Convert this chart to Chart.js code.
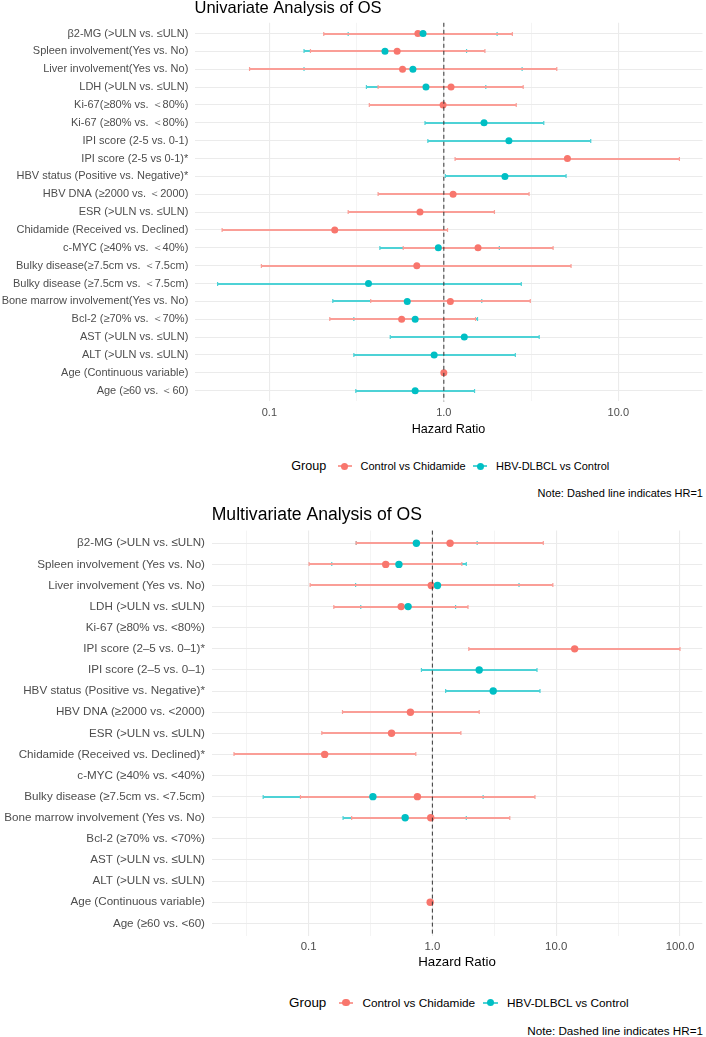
<!DOCTYPE html>
<html>
<head>
<meta charset="utf-8">
<script src="https://cdn.jsdelivr.net/npm/chart.js@4.4.1/dist/chart.umd.min.js"></script>
<style>
  body { margin: 0; background: #fff; font-family: "Liberation Sans", Arial, sans-serif; }
  #page { position: relative; width: 706px; height: 1037px; overflow: hidden; background: #fff; }
  canvas { position: absolute; left: 0; }
  .legend { position: absolute; display: flex; align-items: center; justify-content: center; white-space: nowrap; color: #000; }
  .legend .key { position: relative; display: inline-block; }
  .legend .key i { position: absolute; display: block; }
  .note { position: absolute; right: 3px; color: #000; white-space: nowrap; }
</style>
</head>
<body>
<div id="page">
  <canvas id="uni" width="706" height="440" style="top:0"></canvas>
  <div id="uniLegend" class="legend"></div>
  <div id="uniNote" class="note">Note: Dashed line indicates HR=1</div>
  <canvas id="multi" width="706" height="480" style="top:500px"></canvas>
  <div id="multiLegend" class="legend"></div>
  <div id="multiNote" class="note">Note: Dashed line indicates HR=1</div>
</div>
<script>
// ---- Univariate analysis ----
const uniLabels = [
  'β2-MG (>ULN vs. ≤ULN)',
  'Spleen involvement(Yes vs. No)',
  'Liver involvement(Yes vs. No)',
  'LDH (>ULN vs. ≤ULN)',
  'Ki-67(≥80% vs. ＜80%)',
  'Ki-67 (≥80% vs. ＜80%)',
  'IPI score (2-5 vs. 0-1)',
  'IPI score (2-5 vs 0-1)*',
  'HBV status (Positive vs. Negative)*',
  'HBV DNA (≥2000 vs. ＜2000)',
  'ESR (>ULN vs. ≤ULN)',
  'Chidamide (Received vs. Declined)',
  'c-MYC (≥40% vs. ＜40%)',
  'Bulky disease(≥7.5cm vs. ＜7.5cm)',
  'Bulky disease (≥7.5cm vs. ＜7.5cm)',
  'Bone marrow involvement(Yes vs. No)',
  'Bcl-2 (≥70% vs. ＜70%)',
  'AST (>ULN vs. ≤ULN)',
  'ALT (>ULN vs. ≤ULN)',
  'Age (Continuous variable)',
  'Age (≥60 vs. ＜60)'
];
const uniCtrlHR = [0.71, 0.54, 0.58, 1.10, 0.99, null, null, 5.11, null, 1.13, 0.73, 0.237, 1.57, 0.70, null, 1.09, 0.573, null, null, 1.0, null];
const uniCtrlLo = [0.205, 0.172, 0.077, 0.42, 0.374, null, null, 1.16, null, 0.42, 0.283, 0.0536, 0.585, 0.09, null, 0.381, 0.222, null, null, 0.99, null];
const uniCtrlHi = [2.47, 1.72, 4.44, 2.85, 2.60, null, null, 22.4, null, 3.08, 1.95, 1.05, 4.23, 5.36, null, 3.13, 1.52, null, null, 1.01, null];
const uniHbvHR = [0.76, 0.46, 0.665, 0.79, null, 1.70, 2.36, null, 2.24, null, null, null, 0.93, null, 0.37, 0.617, 0.685, 1.31, 0.88, null, 0.685];
const uniHbvLo = [0.283, 0.158, 0.158, 0.36, null, 0.78, 0.81, null, 1.02, null, null, null, 0.43, null, 0.0505, 0.231, 0.305, 0.493, 0.305, null, 0.313];
const uniHbvHi = [2.02, 1.35, 2.81, 1.74, null, 3.74, 6.95, null, 5.02, null, null, null, 2.08, null, 2.78, 1.65, 1.56, 3.52, 2.57, null, 1.50];

// ---- Multivariate analysis ----
const multiLabels = [
  'β2-MG (>ULN vs. ≤ULN)',
  'Spleen involvement (Yes vs. No)',
  'Liver involvement (Yes vs. No)',
  'LDH (>ULN vs. ≤ULN)',
  'Ki-67 (≥80% vs. <80%)',
  'IPI score (2–5 vs. 0–1)*',
  'IPI score (2–5 vs. 0–1)',
  'HBV status (Positive vs. Negative)*',
  'HBV DNA (≥2000 vs. <2000)',
  'ESR (>ULN vs. ≤ULN)',
  'Chidamide (Received vs. Declined)*',
  'c-MYC (≥40% vs. <40%)',
  'Bulky disease (≥7.5cm vs. <7.5cm)',
  'Bone marrow involvement (Yes vs. No)',
  'Bcl-2 (≥70% vs. <70%)',
  'AST (>ULN vs. ≤ULN)',
  'ALT (>ULN vs. ≤ULN)',
  'Age (Continuous variable)',
  'Age (≥60 vs. <60)'
];
const multiCtrlHR = [1.39, 0.42, 0.98, 0.56, null, 14.1, null, null, 0.665, 0.468, 0.135, null, 0.757, 0.97, null, null, null, 0.96, null];
const multiCtrlLo = [0.242, 0.101, 0.103, 0.16, null, 1.97, null, null, 0.188, 0.128, 0.025, null, 0.086, 0.223, null, null, null, 0.95, null];
const multiCtrlHi = [7.87, 1.73, 9.4, 1.94, null, 100, null, null, 2.39, 1.70, 0.735, null, 6.74, 4.22, null, null, null, 0.98, null];
const multiHbvHR = [0.743, 0.537, 1.10, 0.637, null, null, 2.39, 3.10, null, null, null, null, 0.331, 0.603, null, null, null, null, null];
const multiHbvLo = [0.243, 0.154, 0.24, 0.264, null, null, 0.816, 1.28, null, null, null, null, 0.043, 0.19, null, null, null, null, null];
const multiHbvHi = [2.30, 1.88, 5.01, 1.54, null, null, 7.0, 7.4, null, null, null, null, 2.57, 1.88, null, null, null, null, null];

const groupNames = ['Control vs Chidamide', 'HBV-DLBCL vs Control'];
const groupColors = ['#F8766D', '#00BFC4'];
const groupLineColors = ['#FA9E97', '#4DD2D6'];

Chart.defaults.font.family = '"Liberation Sans", Arial, sans-serif';

function toPoints(hr, lo, hi) {
  const pts = [];
  hr.forEach((v, i) => { if (v != null) pts.push({ x: v, y: i, lo: lo[i], hi: hi[i] }); });
  return pts;
}

// ggplot-like 5% expansion on log scale
function logLimits(los, his) {
  const v = los.concat(his).filter(d => d != null).map(Math.log10);
  const a = Math.min(...v), b = Math.max(...v), pad = (b - a) * 0.05;
  return [Math.pow(10, a - pad), Math.pow(10, b + pad)];
}

function isMajor(v) {
  const l = Math.log10(v);
  return Math.abs(l - Math.round(l)) < 1e-6;
}

const forestPlugin = {
  id: 'forest',
  beforeDatasetsDraw(chart, args, o) {
    const ctx = chart.ctx, xs = chart.scales.x, ys = chart.scales.y;
    ctx.save();
    // teal bars first, red bars drawn over them; snapped so overlaps stay clean
    [1, 0].forEach(di => {
      ctx.strokeStyle = groupLineColors[di];
      chart.data.datasets[di].data.forEach(p => {
        const y = Math.round(ys.getPixelForValue(p.y));
        const x1 = xs.getPixelForValue(p.lo), x2 = xs.getPixelForValue(p.hi);
        ctx.lineWidth = o.barWidth;
        ctx.beginPath();
        ctx.moveTo(x1, y); ctx.lineTo(x2, y);
        ctx.stroke();
        ctx.lineWidth = 1.2;
        ctx.beginPath();
        ctx.moveTo(x1, y - o.cap); ctx.lineTo(x1, y + o.cap);
        ctx.moveTo(x2, y - o.cap); ctx.lineTo(x2, y + o.cap);
        ctx.stroke();
      });
    });
    ctx.restore();
  },
  afterDatasetsDraw(chart) {
    const ctx = chart.ctx, xs = chart.scales.x, a = chart.chartArea;
    const x = xs.getPixelForValue(1);
    ctx.save();
    ctx.strokeStyle = '#333333';
    ctx.lineWidth = 1;
    ctx.setLineDash([4, 3]);
    ctx.beginPath();
    ctx.moveTo(x, a.top); ctx.lineTo(x, a.bottom);
    ctx.stroke();
    ctx.restore();
  }
};

function forestChart(id, title, labels, ctrl, hbv, g) {
  const [xmin, xmax] = logLimits(ctrl[1].concat(hbv[1]), ctrl[2].concat(hbv[2]));
  const n = labels.length;
  return new Chart(document.getElementById(id), {
    type: 'scatter',
    data: {
      datasets: [
        { label: groupNames[0], data: toPoints(ctrl[0], ctrl[1], ctrl[2]), backgroundColor: groupColors[0],
          pointRadius: g.r, pointHoverRadius: g.r, borderWidth: 0, order: 2 },
        { label: groupNames[1], data: toPoints(hbv[0], hbv[1], hbv[2]), backgroundColor: groupColors[1],
          pointRadius: g.r, pointHoverRadius: g.r, borderWidth: 0, order: 1 }
      ]
    },
    options: {
      responsive: false,
      animation: false,
      devicePixelRatio: 1,
      layout: { padding: { left: 0, right: 1, top: 0, bottom: 0 } },
      plugins: {
        legend: { display: false },
        tooltip: { enabled: false },
        title: {
          display: true, text: title, align: 'start', fullSize: false, color: '#000',
          font: { size: g.titleSize, weight: 'normal', lineHeight: 1 },
          padding: { top: g.titleTop, bottom: g.titleBottom }
        },
        forest: { barWidth: g.bar, cap: g.cap }
      },
      scales: {
        x: {
          type: 'logarithmic', min: xmin, max: xmax,
          afterBuildTicks(axis) {
            const t = [];
            for (let e = Math.ceil(Math.log10(xmin) * 2) / 2; e <= Math.log10(xmax); e += 0.5) t.push({ value: Math.pow(10, e) });
            axis.ticks = t;
          },
          afterFit(axis) { axis.height = g.xAxisH; },
          grid: {
            drawTicks: false, color: '#EBEBEB',
            lineWidth: c => (c.tick && isMajor(c.tick.value)) ? 1.1 : 0.55
          },
          border: { display: false },
          ticks: {
            autoSkip: false, maxRotation: 0, color: '#4D4D4D', padding: g.xTickPad,
            font: { size: g.tickSize },
            callback: v => isMajor(v) ? v.toFixed(1) : ''
          },
          title: {
            display: true, text: 'Hazard Ratio', color: '#000',
            font: { size: g.axisTitleSize }, padding: { top: 0, bottom: g.axisTitlePad }
          }
        },
        y: {
          type: 'linear', reverse: true, min: -0.6, max: n - 1 + 0.6,
          afterBuildTicks(axis) { axis.ticks = labels.map((_, i) => ({ value: i })); },
          afterFit(axis) { axis.width = g.yAxisW; },
          grid: { drawTicks: false, color: '#EBEBEB', lineWidth: 1.1 },
          border: { display: false },
          ticks: {
            autoSkip: false, color: '#4D4D4D', padding: g.yTickPad,
            font: { size: g.labelSize },
            callback: v => labels[v]
          }
        }
      }
    },
    plugins: [forestPlugin]
  });
}

function buildLegend(el, g) {
  el.style.left = g.left + 'px';
  el.style.width = (706 - g.left) + 'px';
  el.style.top = (g.cy - 10) + 'px';
  el.style.height = '20px';
  let html = '<span style="font-size:' + g.groupSize + 'px;margin-right:' + g.gap1 + 'px">Group</span>';
  groupNames.forEach((name, i) => {
    html += '<span class="key" style="width:' + g.keyW + 'px;height:' + g.keyW + 'px;margin-right:' + g.gap2 + 'px">' +
      '<i style="left:0;right:0;top:' + (g.keyW / 2 - 1) + 'px;height:2px;background:' + groupLineColors[i] + '"></i>' +
      '<i style="left:' + (g.keyW / 2 - g.r) + 'px;top:' + (g.keyW / 2 - g.r) + 'px;width:' + (2 * g.r) + 'px;height:' + (2 * g.r) +
      'px;border-radius:50%;background:' + groupColors[i] + '"></i></span>' +
      '<span style="font-size:' + g.itemSize + 'px;margin-right:' + (i === 0 ? g.gap3 : 0) + 'px">' + name + '</span>';
  });
  el.innerHTML = html;
}

function placeNote(el, cy, size) {
  el.style.fontSize = size + 'px';
  el.style.lineHeight = '16px';
  el.style.top = (cy - 8) + 'px';
}

forestChart('uni', 'Univariate Analysis of OS', uniLabels,
  [uniCtrlHR, uniCtrlLo, uniCtrlHi], [uniHbvHR, uniHbvLo, uniHbvHi],
  { r: 3.5, bar: 2, cap: 2, titleSize: 16.5, titleTop: 0, titleBottom: 6.3,
    xAxisH: 38.6, xTickPad: 5, tickSize: 11, axisTitleSize: 12.6, axisTitlePad: 3.4,
    yAxisW: 194.5, yTickPad: 6.2, labelSize: 11 });

forestChart('multi', 'Multivariate Analysis of OS', multiLabels,
  [multiCtrlHR, multiCtrlLo, multiCtrlHi], [multiHbvHR, multiHbvLo, multiHbvHi],
  { r: 3.7, bar: 2, cap: 2.1, titleSize: 17.6, titleTop: 6.2, titleBottom: 6.8,
    xAxisH: 44, xTickPad: 3.9, tickSize: 11.4, axisTitleSize: 13.3, axisTitlePad: 9.3,
    yAxisW: 211.7, yTickPad: 6.7, labelSize: 11.65 });

buildLegend(document.getElementById('uniLegend'),
  { left: 194.5, cy: 466, groupSize: 12.6, itemSize: 11, keyW: 14, r: 3.5, gap1: 11.7, gap2: 8.6, gap3: 7.7 });
buildLegend(document.getElementById('multiLegend'),
  { left: 211.7, cy: 1002.7, groupSize: 13.4, itemSize: 11.8, keyW: 14.8, r: 3.7, gap1: 12.3, gap2: 9, gap3: 8.1 });
placeNote(document.getElementById('uniNote'), 492.7, 11);
placeNote(document.getElementById('multiNote'), 1031, 11.7);
</script>
</body>
</html>
